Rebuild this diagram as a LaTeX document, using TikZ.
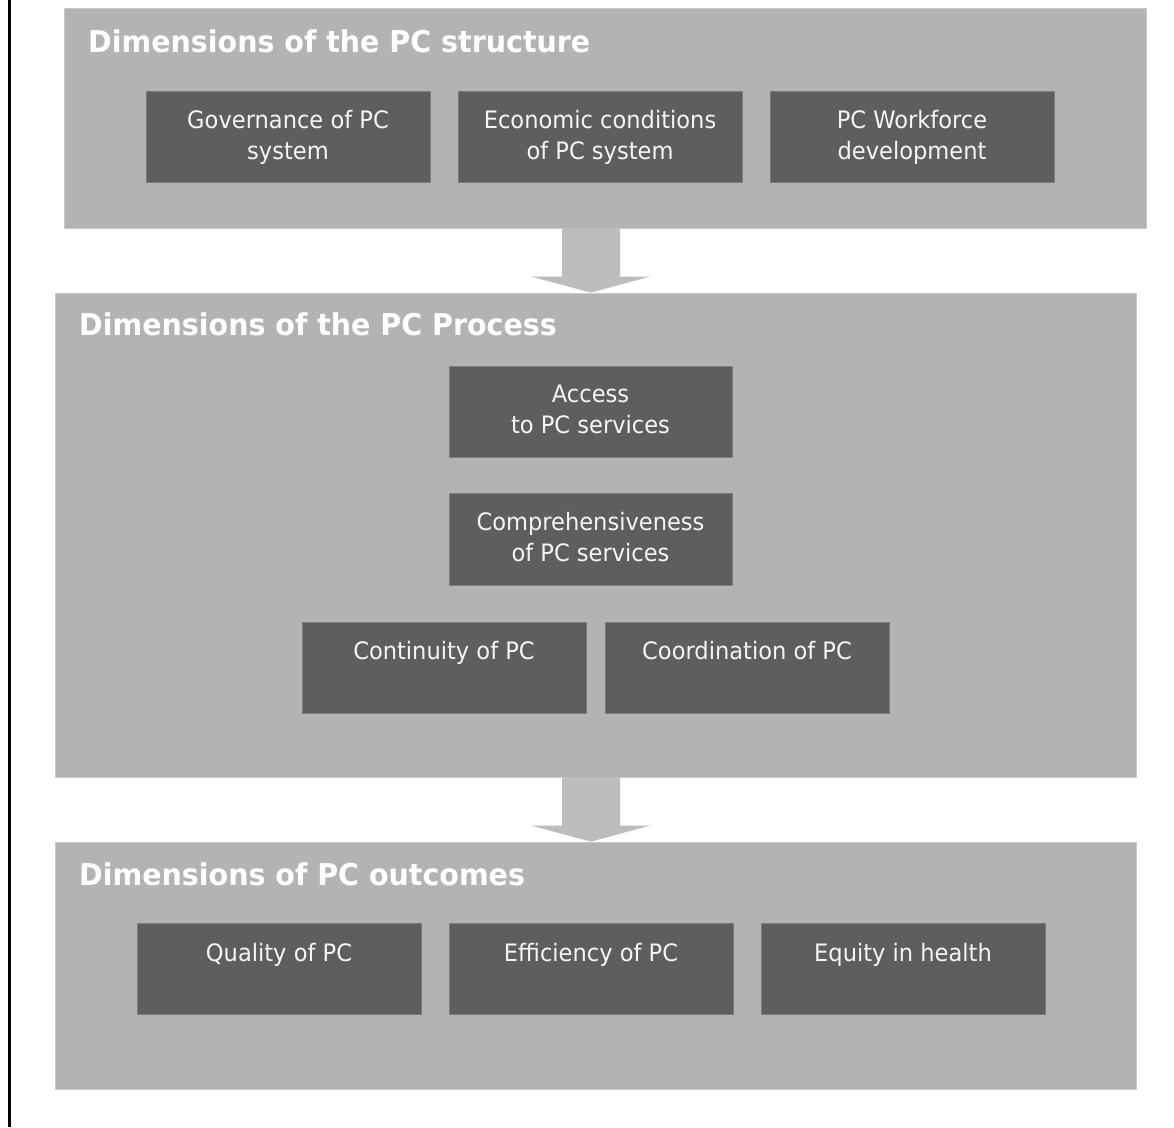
\documentclass[tikz,border=0pt]{standalone}
\usepackage{fontspec}
\setmainfont{DejaVu Sans}
\newfontfamily\titlefont[FakeStretch=0.95]{DejaVu Sans}
\newfontfamily\boxfont[FakeStretch=0.94]{DejaVu Sans}
\usetikzlibrary{calc}
\definecolor{panelgray}{RGB}{179,179,179}
\definecolor{paneledge}{RGB}{200,200,200}
\definecolor{boxgray}{RGB}{94,94,94}
\definecolor{boxedge}{RGB}{125,125,125}
\definecolor{arrowgray}{RGB}{189,189,189}
\definecolor{txtwhite}{RGB}{245,245,245}
\tikzset{
  panel/.style={rectangle, fill=panelgray, draw=paneledge, line width=0.8pt, inner sep=0pt},
  dimbox/.style={rectangle, fill=boxgray, draw=boxedge, line width=0.8pt, inner sep=0pt, minimum width=284pt, minimum height=91pt},
  boxtext/.style={anchor=north, inner sep=0pt, align=center, text=txtwhite, font=\boxfont\fontsize{24pt}{31pt}\selectfont},
  paneltitle/.style={anchor=base west, inner sep=0pt, text=white, font=\titlefont\bfseries\fontsize{30pt}{36pt}\selectfont},
  bigarrow/.style={fill=arrowgray, draw=none}
}
\begin{document}
\begin{tikzpicture}[x=1pt,y=1pt]
\useasboundingbox (0,0) rectangle (1174,-1127);
\fill[white] (0,0) rectangle (1174,-1127);
% left border line
\draw[line width=3pt, black] (9.5,0) -- (9.5,-1127);

% panels
\node[panel, minimum width=1082pt, minimum height=220pt] (p1) at (605,-118) {};
\node[panel, minimum width=1081pt, minimum height=484pt] (p2) at (595.5,-535) {};
\node[panel, minimum width=1081pt, minimum height=247pt] (p3) at (595.5,-965.5) {};

% titles
\node[paneltitle] (t1) at (88,-52) {Dimensions of the PC structure};
\node[paneltitle] (t2) at (79,-335) {Dimensions of the PC Process};
\node[paneltitle] (t3) at (79,-885) {Dimensions of PC outcomes};

% structure boxes
\node[dimbox] (gov) at (288,-136.5) {};
\node[dimbox] (eco) at (600,-136.5) {};
\node[dimbox] (wf)  at (912,-136.5) {};
\node[boxtext] (govt) at ($(gov.north)+(0,-19)$) {Governance of PC\\system};
\node[boxtext] (ecot) at ($(eco.north)+(0,-19)$) {Economic conditions\\of PC system};
\node[boxtext] (wft)  at ($(wf.north)+(0,-19)$) {PC Workforce\\development};

% process boxes
\node[dimbox, minimum width=283pt] (acc) at (590.5,-411.5) {};
\node[dimbox, minimum width=283pt, minimum height=92pt] (comp) at (590.5,-539) {};
\node[dimbox] (cont) at (444,-667.5) {};
\node[dimbox] (coord) at (747,-667.5) {};
\node[boxtext] (acct) at ($(acc.north)+(0,-19)$) {Access\\to PC services};
\node[boxtext] (compt) at ($(comp.north)+(0,-19)$) {Comprehensiveness\\of PC services};
\node[boxtext] (contt) at ($(cont.north)+(0,-19)$) {Continuity of PC};
\node[boxtext] (coordt) at ($(coord.north)+(0,-19)$) {Coordination of PC};

% outcome boxes
\node[dimbox] (qual) at (279,-969) {};
\node[dimbox] (eff) at (591,-969) {};
\node[dimbox] (eq) at (903,-969) {};
\node[boxtext] (qualt) at ($(qual.north)+(0,-20)$) {Quality of PC};
\node[boxtext] (efft) at ($(eff.north)+(0,-20)$) {Efficiency of PC};
\node[boxtext] (eqt) at ($(eq.north)+(0,-20)$) {Equity in health};

% big arrows between panels
\fill[bigarrow] (562,0 |- p1.south) -- (620,0 |- p1.south) -- ($(620,0 |- p2.north)+(0,16)$)
  -- ($(650,0 |- p2.north)+(0,16)$) -- (591,0 |- p2.north) -- ($(531,0 |- p2.north)+(0,16)$)
  -- ($(562,0 |- p2.north)+(0,16)$) -- cycle;
\fill[bigarrow] (562,0 |- p2.south) -- (620,0 |- p2.south) -- ($(620,0 |- p3.north)+(0,16)$)
  -- ($(650,0 |- p3.north)+(0,16)$) -- (591,0 |- p3.north) -- ($(531,0 |- p3.north)+(0,16)$)
  -- ($(562,0 |- p3.north)+(0,16)$) -- cycle;
\end{tikzpicture}
\end{document}
